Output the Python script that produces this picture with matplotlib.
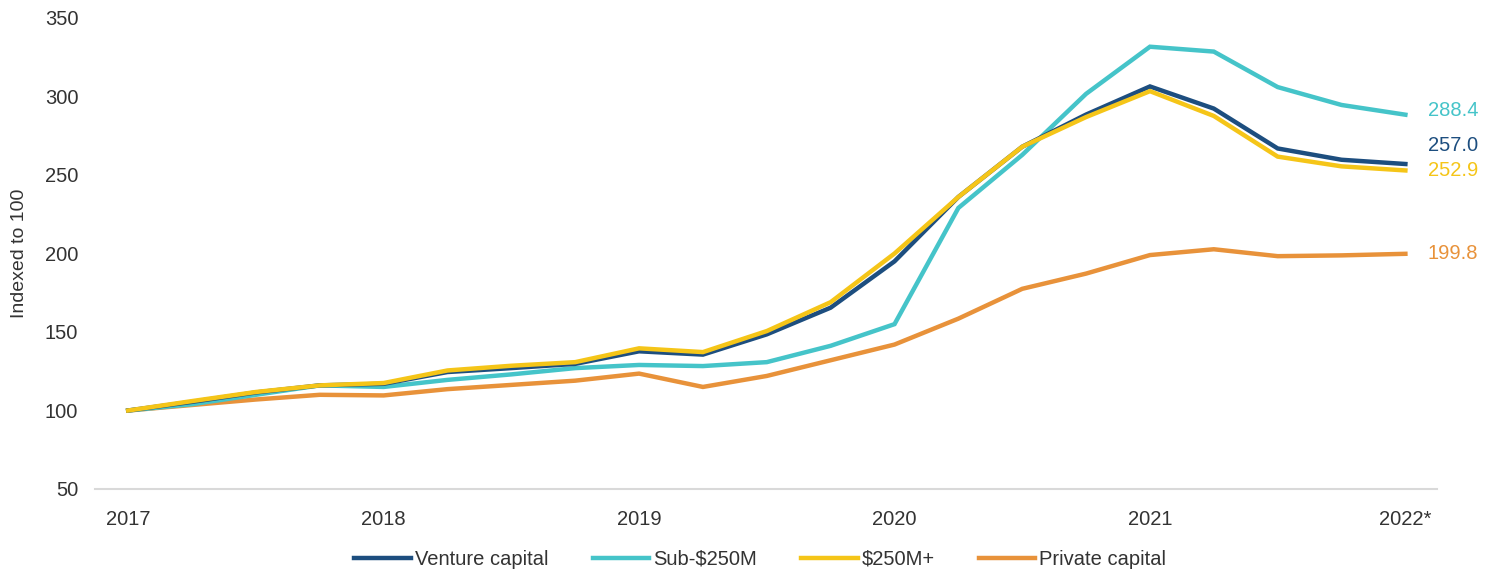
import matplotlib
matplotlib.use("Agg")
import matplotlib.pyplot as plt

# quarterly index values, 2017 Q0 .. 2022
venture = [100, 105.5, 111.5, 116, 117, 124.5, 127, 129.7, 137.7, 135.6, 148.5,
           165.5, 195, 236, 268, 288.5, 306.4, 292.3, 266.9, 259.7, 257.0]
sub_250 = [100, 104, 110, 116, 115, 119.5, 123, 127, 129, 128.3, 130.8,
           141.2, 155, 229, 262.8, 301.7, 331.7, 328.6, 306, 294.6, 288.4]
over_250 = [100, 106, 111.8, 116, 117.5, 125.5, 128.5, 130.8, 139.6, 137.2, 150.6,
            169, 200, 236, 268, 286.9, 303.4, 287.6, 261.7, 255.5, 252.9]
private = [100, 103.5, 107, 110, 109.6, 113.6, 116.3, 119, 123.5, 115, 122,
           132, 142, 158.5, 177.5, 187.2, 199, 202.7, 198.3, 198.8, 199.8]

year_labels = ["2017", "2018", "2019", "2020", "2021", "2022*"]
end_labels = ["257.0", "288.4", "252.9", "199.8"]
series_names = ["Venture capital", "Sub-$250M", "$250M+", "Private capital"]

plt.rcParams["font.family"] = ["Liberation Sans", "DejaVu Sans"]

colors = ["#1d4e7f", "#45c4c9", "#f5c518", "#e8923a"]
text_color = "#333333"

fig = plt.figure(figsize=(14.91, 5.73), dpi=100)
ax = fig.add_axes([0.0637, 0.1466, 0.9003, 0.822])

x = list(range(len(venture)))
data = [venture, sub_250, over_250, private]
# draw order: private, sub, venture, yellow on top
order = [3, 1, 0, 2]
for i in order:
    ax.plot(x, data[i], color=colors[i], lw=3.2, label=series_names[i],
            solid_joinstyle="miter", zorder=3 + order.index(i))

# end value labels
offsets = [19, 4, 0, 0]
for i in range(4):
    ax.annotate(end_labels[i], xy=(x[-1], data[i][-1]),
                xytext=(16, offsets[i] * 0.72), textcoords="offset points",
                color=colors[i], fontsize=14.5, va="center", ha="left")

ax.set_xlim(-0.52, 20.5)
ax.set_ylim(50, 350)
ax.set_yticks(range(50, 351, 50))
ax.set_xticks(range(0, 21, 4))
ax.set_xticklabels(year_labels)
ax.tick_params(length=0, labelsize=14.5, colors=text_color)
ax.tick_params(axis="x", pad=15)
ax.tick_params(axis="y", pad=12)

for s in ["top", "right", "left"]:
    ax.spines[s].set_visible(False)
ax.spines["bottom"].set_color("#d9d9d9")
ax.spines["bottom"].set_linewidth(1.5)

ax.set_ylabel("Indexed to 100", fontsize=14, color=text_color, labelpad=12)

handles, labels = ax.get_legend_handles_labels()
lookup = dict(zip(labels, handles))
leg = fig.legend([lookup[n] for n in series_names], series_names,
                 loc="lower center", bbox_to_anchor=(0.51, -0.024), ncol=4,
                 frameon=False, fontsize=14.5, handlelength=2.8, handletextpad=0.2,
                 columnspacing=2.2)
for t in leg.get_texts():
    t.set_color(text_color)

fig.savefig("out.png", dpi=100)
